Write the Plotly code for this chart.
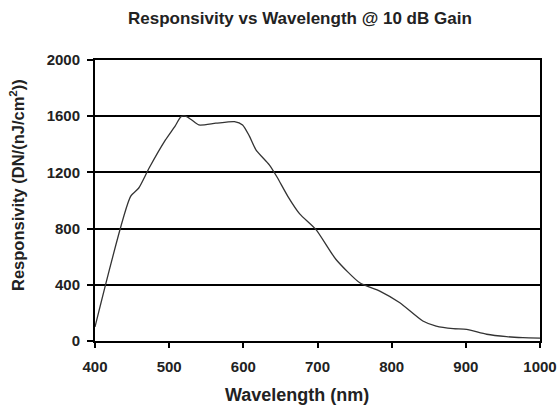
import plotly.graph_objects as go

wavelength_nm = [400, 448, 459, 473, 495, 508, 516, 522, 530, 540, 563, 588, 599, 608, 617, 635, 645, 660, 676, 698, 725, 757, 784, 811, 842, 860, 883, 901, 928, 955, 977, 1000]
responsivity = [100, 1029, 1089, 1231, 1431, 1530, 1597, 1600, 1575, 1538, 1550, 1561, 1538, 1460, 1361, 1254, 1171, 1030, 905, 793, 580, 414, 355, 272, 142, 106, 88, 83, 48, 31, 24, 20]

x_ticks = [400, 500, 600, 700, 800, 900, 1000]
y_ticks = [0, 400, 800, 1200, 1600, 2000]

W, H = 558, 405
fig = go.Figure()
fig.add_trace(go.Scatter(
    x=wavelength_nm, y=responsivity, mode="lines",
    line=dict(color="#333333", width=1.3, shape="spline", smoothing=0.6),
    hoverinfo="skip", showlegend=False,
))

font_family = "Liberation Sans, Arial, sans-serif"
txt = "#222222"
fig.update_layout(
    width=W, height=H,
    margin=dict(l=95, r=18, t=60, b=64),
    paper_bgcolor="white", plot_bgcolor="white",
    font=dict(family=font_family, color=txt),
    annotations=[
        dict(text="<b>Responsivity vs Wavelength @ 10 dB Gain</b>", xref="paper", yref="paper",
             x=(300 - 95) / 445, y=1 + (60 - 18) / 281, xanchor="center", yanchor="middle",
             showarrow=False, font=dict(size=17, family=font_family, color=txt)),
        dict(text="<b>Wavelength (nm)</b>", xref="paper", yref="paper",
             x=(297 - 95) / 445, y=-(395 - 341) / 281, xanchor="center", yanchor="middle",
             showarrow=False, font=dict(size=18, family=font_family, color=txt)),
        dict(text="<b>Responsivity (DN/(nJ/cm<sup>2</sup>))</b>", xref="paper", yref="paper",
             x=-(95 - 17) / 445, y=(341 - 185) / 281, xanchor="center", yanchor="middle",
             textangle=-90, showarrow=False, font=dict(size=16.5, family=font_family, color=txt)),
    ],
)
fig.update_xaxes(
    range=[400, 1000], tickvals=x_ticks, ticktext=[f"<b>{v}</b>" for v in x_ticks],
    showgrid=False, zeroline=False, automargin=False,
    showline=True, linecolor="black", linewidth=2, mirror=True,
    ticks="outside", ticklen=5, tickwidth=1.5, tickcolor="black",
    ticklabelstandoff=6,
    tickfont=dict(size=15, family=font_family, color=txt),
)
fig.update_yaxes(
    range=[0, 2000], tickvals=y_ticks, ticktext=[f"<b>{v}</b>" for v in y_ticks],
    showgrid=True, gridcolor="black", gridwidth=2, zeroline=False, automargin=False,
    showline=True, linecolor="black", linewidth=2, mirror=True,
    ticks="outside", ticklen=6, tickwidth=1.5, tickcolor="black",
    ticklabelstandoff=4,
    tickfont=dict(size=15, family=font_family, color=txt),
)

fig.write_html("out.html", config={"displayModeBar": False},
               post_script="document.body.style.margin='0';")
